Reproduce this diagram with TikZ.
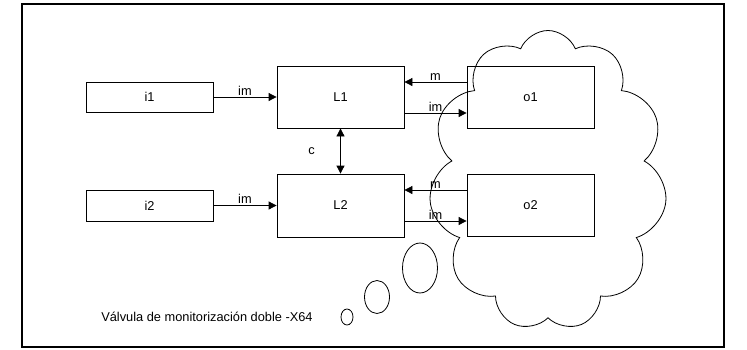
\documentclass[tikz,border=0pt]{standalone}
\usepackage{fontspec}
\setmainfont{Liberation Sans}
\usetikzlibrary{arrows.meta, shapes.geometric, shapes.symbols}

\begin{document}
\begin{tikzpicture}[
  x=1pt, y=-1pt,
  font=\fontsize{12.8}{14}\selectfont,
  caja/.style={draw, line width=0.8pt, inner sep=0pt, minimum width=127pt},
  flecha/.style={-{Triangle[length=8pt, width=8pt]}, line width=0.8pt},
  doble/.style={{Triangle[length=8pt, width=8pt]}-{Triangle[length=8pt, width=8pt]}, line width=0.8pt},
  etiq/.style={above, inner sep=1.5pt},
  burbuja/.style={ellipse, draw, line width=0.8pt, inner sep=0pt},
]
\useasboundingbox (0,0) rectangle (747,349);
% ---- marco
\node[draw, line width=1.5pt, inner sep=0pt, minimum width=702pt, minimum height=343pt]
  (marco) at (373,175.5) {};
% ---- la nube y sus burbujas
\node[cloud, draw, line width=0.8pt, cloud puffs=11, cloud puff arc=135, aspect=0.75,
      minimum width=238pt, minimum height=300pt, inner sep=0pt] (nube) at (548,180.5) {};
\node[burbuja, minimum width=35pt, minimum height=50pt] (b1) at (420,268) {};
\node[burbuja, minimum width=25pt, minimum height=33pt] (b2) at (377,297) {};
\node[burbuja, minimum width=12pt, minimum height=16pt] (b3) at (347,317) {};
% ---- cajas
\node[caja, minimum height=30pt] (i1) at (149.5,97) {i1};
\node[caja, minimum height=62pt] (L1) at (340.5,97) {L1};
\node[caja, minimum height=62pt] (o1) at (530.5,97) {o1};
\node[caja, minimum height=31pt] (i2) at (149.5,205.5) {i2};
\node[caja, minimum height=63pt] (L2) at (340.5,205.5) {L2};
\node[caja, minimum height=62pt] (o2) at (530.5,205) {o2};
% ---- flechas
\draw[flecha] (i1.east) -- node[etiq] {im} (L1.west);
\draw[flecha] (i2.east) -- node[etiq] {im} (L2.west);
\draw[doble] (L1.south) -- node[midway, left=22pt] {c} (L2.north);
\draw[flecha] ([yshift=15pt]o1.west) -- node[etiq] {m} ([yshift=15pt]L1.east);
\draw[flecha] ([yshift=-16pt]L1.east) -- node[etiq] {im} ([yshift=-16pt]o1.west);
\draw[flecha] ([yshift=15pt]o2.west) -- node[etiq] {m} ([yshift=15.5pt]L2.east);
\draw[flecha] ([yshift=-15.5pt]L2.east) -- node[etiq] {im} ([yshift=-16pt]o2.west);
% ---- titulo
\node (titulo) at (207,317) {Válvula de monitorización doble -X64};
\end{tikzpicture}
\end{document}
